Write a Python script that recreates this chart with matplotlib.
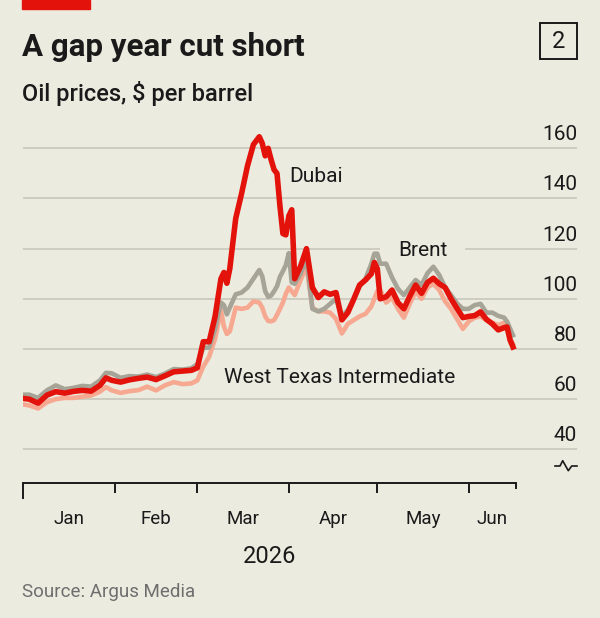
import matplotlib
matplotlib.use("Agg")
import matplotlib.pyplot as plt
import matplotlib.dates as mdates
import matplotlib.transforms as mtransforms
from matplotlib import font_manager
from matplotlib.patches import Rectangle
from matplotlib.lines import Line2D
import pandas as pd

# --- data ---
days_since_jan1 = [0, 2, 5, 8, 11, 14, 17, 20, 23, 26, 28, 30, 33, 36, 39, 42, 45, 48,
                   51, 54, 57, 59, 61, 63, 65, 67, 68, 69, 70, 72, 74, 76, 78, 80, 81,
                   82, 83, 84, 85, 86, 87, 88, 89, 90, 91, 92, 94, 96, 98, 100, 102,
                   104, 106, 108, 110, 112, 114, 116, 118, 119, 120, 121, 123, 125,
                   127, 129, 131, 133, 135, 137, 139, 141, 143, 145, 147, 149, 151,
                   153, 155, 157, 159, 161, 163, 164, 165, 166]
dubai = [60.3, 60.0, 58.4, 61.6, 63.0, 62.4, 63.1, 63.5, 63.2, 65.5, 68.5, 67.5, 66.8,
         67.7, 68.3, 68.8, 67.8, 69.3, 70.9, 71.2, 71.5, 72.5, 82.9, 82.9, 92.9, 108.0,
         110.5, 106.2, 112.0, 132.0, 142.0, 153.0, 161.5, 164.6, 162.0, 157.0, 160.0,
         155.5, 151.5, 150.0, 137.0, 126.0, 125.5, 133.0, 135.5, 108.0, 113.0, 120.0,
         104.5, 100.5, 102.8, 101.8, 102.5, 91.6, 94.5, 99.8, 105.5, 107.5, 110.0,
         114.5, 112.0, 100.0, 100.8, 103.5, 98.5, 96.0, 101.0, 105.5, 102.2, 106.5,
         108.2, 106.0, 104.5, 100.0, 96.2, 92.5, 93.0, 93.3, 94.8, 91.8, 90.0, 87.6,
         88.5, 88.8, 83.6, 80.8]
brent = [61.8, 61.8, 60.5, 63.5, 65.5, 64.0, 64.5, 65.3, 65.0, 67.5, 70.5, 70.3, 68.5,
         69.2, 69.0, 69.8, 68.8, 70.2, 72.0, 71.8, 72.3, 74.0, 80.5, 80.5, 88.0, 98.5,
         97.5, 93.8, 96.5, 101.8, 102.5, 104.5, 108.0, 111.5, 109.0, 103.0, 100.8,
         101.3, 103.0, 105.0, 108.8, 111.0, 113.5, 118.2, 106.5, 106.0, 110.0, 116.0,
         96.0, 95.0, 96.0, 98.0, 100.0, 93.0, 95.5, 100.0, 105.0, 108.0, 114.0, 118.0,
         118.0, 114.0, 114.0, 108.5, 104.0, 101.5, 104.5, 107.5, 105.5, 110.2, 112.8,
         109.5, 104.5, 101.5, 98.2, 96.0, 96.0, 97.5, 98.0, 94.5, 94.5, 93.2, 92.5,
         90.9, 88.2, 85.5]
wti = [57.9, 57.5, 56.3, 58.8, 60.0, 60.5, 60.5, 61.0, 61.5, 63.0, 64.8, 63.5, 62.5,
       63.2, 63.6, 65.0, 63.5, 65.5, 66.8, 66.0, 66.3, 67.5, 73.0, 76.9, 84.0, 95.5,
       89.0, 86.0, 87.0, 96.5, 96.0, 96.5, 99.0, 98.5, 96.5, 93.0, 91.2, 91.0, 91.5,
       93.6, 96.0, 98.5, 102.0, 104.5, 103.0, 101.5, 107.5, 113.0, 96.5, 95.0, 95.0,
       94.5, 92.0, 86.2, 90.0, 91.5, 93.0, 94.0, 97.0, 100.0, 103.0, 103.5, 98.5,
       100.5, 96.0, 92.5, 98.0, 103.0, 100.0, 104.5, 106.0, 103.5, 99.0, 96.0, 92.0,
       88.0, 91.0, 92.5, 93.0, 91.5, 90.5, 89.5, 90.5, 89.5, 84.0, 82.0]
y_ticks = [40, 60, 80, 100, 120, 140, 160]
months = ["Jan", "Feb", "Mar", "Apr", "May", "Jun"]

# --- style ---
W, H = 600, 618
BG = "#ECEBE0"
GRID = "#C8C7BC"
INK = "#1A1A1A"
RED = "#E3120B"
GREY = "#A5A497"
SALMON = "#F7A890"

installed = {f.name for f in font_manager.fontManager.ttflist}
narrow = "Liberation Sans Narrow" if "Liberation Sans Narrow" in installed else "Roboto"
plt.rcParams["font.family"] = ["Roboto", "DejaVu Sans"]


def fx(px):
    return px / W


def fy(py):
    return 1 - py / H


start = pd.Timestamp("2026-01-01")
dates = [start + pd.Timedelta(days=d) for d in days_since_jan1]


def day(d):
    return mdates.date2num(start + pd.Timedelta(days=d))


fig = plt.figure(figsize=(W / 100, H / 100), dpi=100, facecolor=BG)
ax = fig.add_axes([fx(23.3), fy(482.7), fx(577) - fx(23.3), fy(130) - fy(482.7)])
ax.set_facecolor(BG)
ax.set_xlim(day(0), day(187.7))
ax.set_ylim(26.7, 167.3)
ax.set_xticks([])
ax.set_yticks([])
for s in ["top", "right", "left"]:
    ax.spines[s].set_visible(False)
ax.spines["bottom"].set_bounds(day(0), day(167))
ax.spines["bottom"].set_color(INK)
ax.spines["bottom"].set_linewidth(1.4)

# gridlines and right-hand labels sitting above them
blend = mtransforms.blended_transform_factory(ax.transAxes, ax.transData)
for v in y_ticks:
    ax.axhline(v, color=GRID, lw=1.2, zorder=0)
    ax.text(1.0, v + 3.2, str(v), transform=blend, ha="right", va="baseline",
            fontsize=15, color=INK)

# gap in the 120 gridline behind the Brent label
ax.add_patch(Rectangle((fx(380), fy(252)), fx(465) - fx(380), fy(244) - fy(252),
                       transform=fig.transFigure, facecolor=BG, edgecolor="none",
                       zorder=0.5))

ax.plot(dates, wti, color=SALMON, lw=3.3, zorder=2, solid_joinstyle="round")
ax.plot(dates, brent, color=GREY, lw=3.3, zorder=3, solid_joinstyle="round")
ax.plot(dates, dubai, color=RED, lw=4.0, zorder=4, solid_joinstyle="round")

# series labels
ax.text(day(90.2), 146.7, "Dubai", fontsize=15, color=INK, va="baseline")
ax.text(day(127), 117.0, "Brent", fontsize=15, color=INK, va="baseline", zorder=5)
ax.text(day(68), 66.5, "West Texas Intermediate", fontsize=15, color=INK,
        va="baseline")

# x axis ticks and month labels
month_starts = [0, 31, 59, 90, 120, 151]
y0 = 26.7
for i, d in enumerate(month_starts):
    length = 6.4 if i == 0 else 4.0
    ax.plot([day(d), day(d)], [y0, y0 - length], color=INK, lw=1.4,
            clip_on=False, solid_capstyle="butt")
ax.plot([day(167), day(167)], [y0, y0 - 2.7], color=INK, lw=1.4, clip_on=False,
        solid_capstyle="butt")
edges = month_starts + [167]
for i, m in enumerate(months):
    mid = (edges[i] + edges[i + 1]) / 2
    ax.text(day(mid), 10.4, m, ha="center", va="baseline", fontsize=13.5, color=INK)
ax.text(day(83.5), -5.3, "2026", ha="center", va="baseline", fontsize=17, color=INK)

# axis break symbol
bx = [555, 560, 562.7, 568.3, 571.7, 577]
by = [466, 466, 460.7, 470.7, 466, 466]
fig.add_artist(Line2D([fx(x) for x in bx], [fy(y) for y in by], color=INK, lw=1.2,
                      transform=fig.transFigure))

# header
fig.add_artist(Rectangle((fx(22), fy(9)), fx(90) - fx(22), fy(0) - fy(9),
                         transform=fig.transFigure, color=RED))
fig.text(fx(22), fy(56), "A gap year cut short", fontsize=22.5, fontweight="bold",
         family=[narrow, "DejaVu Sans"], color=INK, va="baseline")
fig.text(fx(22), fy(101.5), "Oil prices, $ per barrel", fontsize=17,
         fontweight="medium", color=INK, va="baseline")
fig.add_artist(Rectangle((fx(540), fy(59.3)), fx(577) - fx(540), fy(23.3) - fy(59.3),
                         transform=fig.transFigure, facecolor="none", edgecolor=INK,
                         lw=1.4))
fig.text(fx(558.5), fy(41.5), "2", fontsize=17, color=INK, ha="center", va="center")

fig.text(fx(22), fy(597), "Source: Argus Media", fontsize=13.5, color="#6E6E6E",
         va="baseline")

fig.savefig("out.png", dpi=100, facecolor=BG)
